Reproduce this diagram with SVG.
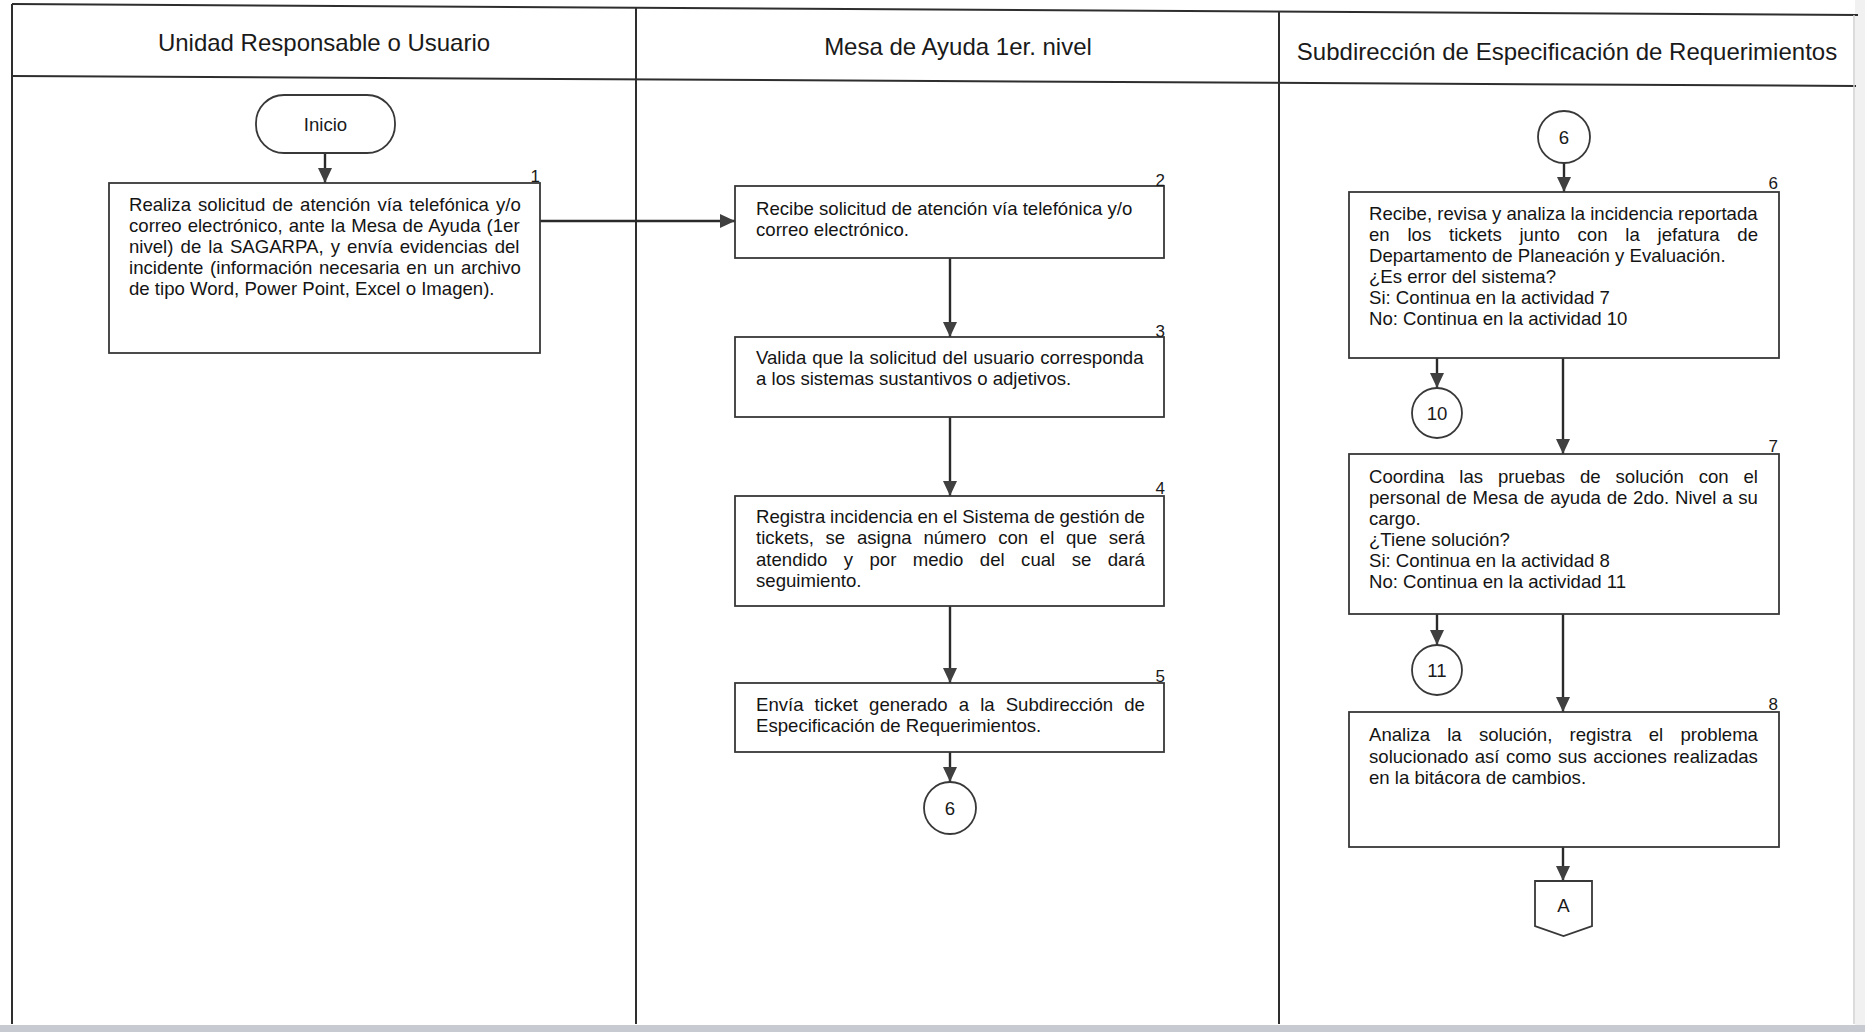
<svg xmlns="http://www.w3.org/2000/svg" width="1865" height="1032" viewBox="0 0 1865 1032">
<style>
  .frame { stroke: #2e2e2e; stroke-width: 2; fill: none; }
  .box { fill: #ffffff; stroke: #383838; stroke-width: 1.8; }
  .conn { stroke: #2a2a2a; stroke-width: 2.4; fill: none; marker-end: url(#arrow); }
  .hdr { font-family: "Liberation Sans", Arial, sans-serif; font-size: 24px; fill: #1a1a1a; text-anchor: middle; }
  .t { font-family: "Liberation Sans", Arial, sans-serif; font-size: 18.6px; fill: #141414; }
  .num { font-family: "Liberation Sans", Arial, sans-serif; font-size: 17px; fill: #1a1a1a; text-anchor: end; }
  .ctr { font-family: "Liberation Sans", Arial, sans-serif; font-size: 18.6px; fill: #1a1a1a; text-anchor: middle; }
</style>
<defs>
  <marker id="arrow" markerUnits="userSpaceOnUse" markerWidth="16" markerHeight="14" viewBox="0 0 16 14" refX="15" refY="7" orient="auto">
    <path d="M0,0 L15,7 L0,14 Z" fill="#404040"/>
  </marker>
</defs>
<rect x="0" y="0" width="1865" height="1032" fill="#ffffff"/>
<rect x="1855" y="0" width="10" height="1032" fill="#f1f1f1"/>
<rect x="0" y="1025" width="1865" height="7" fill="#c8cad2"/>

<g id="frame">
  <line class="frame" x1="12" y1="4" x2="1858" y2="15"/>
  <line class="frame" x1="12" y1="76" x2="1856" y2="86"/>
  <line class="frame" x1="12" y1="4" x2="12" y2="1024"/>
  <line class="frame" x1="636" y1="8" x2="636" y2="1024"/>
  <line class="frame" x1="1279" y1="11" x2="1279" y2="1024"/>
  <line x1="1854" y1="15" x2="1854" y2="1024" stroke="#d0d0d0" stroke-width="1.5"/>
</g>

<g id="headers">
  <text class="hdr" x="324" y="51">Unidad Responsable o Usuario</text>
  <text class="hdr" x="958" y="55">Mesa de Ayuda 1er. nivel</text>
  <text class="hdr" x="1567" y="60">Subdirección de Especificación de Requerimientos</text>
</g>

<g id="connectors">
  <line class="conn" x1="325" y1="153" x2="325" y2="183"/>
  <line class="conn" x1="540" y1="221" x2="735" y2="221" stroke-width="3"/>
  <line class="conn" x1="950" y1="258" x2="950" y2="337"/>
  <line class="conn" x1="950" y1="417" x2="950" y2="496"/>
  <line class="conn" x1="950" y1="606" x2="950" y2="683"/>
  <line class="conn" x1="950" y1="752" x2="950" y2="782"/>
  <line class="conn" x1="1564" y1="163" x2="1564" y2="192"/>
  <line class="conn" x1="1437" y1="358" x2="1437" y2="388"/>
  <line class="conn" x1="1563" y1="358" x2="1563" y2="454"/>
  <line class="conn" x1="1437" y1="614" x2="1437" y2="645"/>
  <line class="conn" x1="1563" y1="614" x2="1563" y2="712"/>
  <line class="conn" x1="1563" y1="847" x2="1563" y2="881"/>
</g>

<g id="inicio">
  <rect class="box" x="256" y="95" width="139" height="58" rx="28" ry="28" stroke-width="2"/>
  <text class="ctr" x="325.5" y="130.5">Inicio</text>
</g>

<g id="act1">
  <rect class="box" x="109" y="183" width="431" height="170"/>
  <text class="num" x="540" y="182">1</text>
  <text class="t" x="129" y="211" word-spacing="1.9">Realiza solicitud de atención vía telefónica y/o</text>
  <text class="t" x="129" y="232" word-spacing="0.77">correo electrónico, ante la Mesa de Ayuda (1er</text>
  <text class="t" x="129" y="253" word-spacing="1.94">nivel) de la SAGARPA, y envía evidencias del</text>
  <text class="t" x="129" y="274" word-spacing="1.48">incidente (información necesaria en un archivo</text>
  <text class="t" x="129" y="295">de tipo Word, Power Point, Excel o Imagen).</text>
</g>

<g id="act2">
  <rect class="box" x="735" y="186" width="429" height="72"/>
  <text class="num" x="1165" y="186">2</text>
  <text class="t" x="756" y="215">Recibe solicitud de atención vía telefónica y/o</text>
  <text class="t" x="756" y="236">correo electrónico.</text>
</g>

<g id="act3">
  <rect class="box" x="735" y="337" width="429" height="80"/>
  <text class="num" x="1165" y="337">3</text>
  <text class="t" x="756" y="364" word-spacing="0.73">Valida que la solicitud del usuario corresponda</text>
  <text class="t" x="756" y="385">a los sistemas sustantivos o adjetivos.</text>
</g>

<g id="act4">
  <rect class="box" x="735" y="496" width="429" height="110"/>
  <text class="num" x="1165" y="494">4</text>
  <text class="t" x="756" y="523" word-spacing="-0.4">Registra incidencia en el Sistema de gestión de</text>
  <text class="t" x="756" y="544" word-spacing="6.54">tickets, se asigna número con el que será</text>
  <text class="t" x="756" y="566" word-spacing="11.26">atendido y por medio del cual se dará</text>
  <text class="t" x="756" y="587">seguimiento.</text>
</g>

<g id="act5">
  <rect class="box" x="735" y="683" width="429" height="69"/>
  <text class="num" x="1165" y="682">5</text>
  <text class="t" x="756" y="711" word-spacing="5.9">Envía ticket generado a la Subdirección de</text>
  <text class="t" x="756" y="732">Especificación de Requerimientos.</text>
</g>

<g id="conn6a">
  <circle class="box" cx="950" cy="808" r="26"/>
  <text class="ctr" x="950" y="814.5">6</text>
</g>

<g id="conn6b">
  <circle class="box" cx="1564" cy="137" r="26"/>
  <text class="ctr" x="1564" y="143.5">6</text>
</g>

<g id="act6">
  <rect class="box" x="1349" y="192" width="430" height="166"/>
  <text class="num" x="1778" y="189">6</text>
  <text class="t" x="1369" y="220">Recibe, revisa y analiza la incidencia reportada</text>
  <text class="t" x="1369" y="241" word-spacing="12.6">en los tickets junto con la jefatura de</text>
  <text class="t" x="1369" y="262">Departamento de Planeación y Evaluación.</text>
  <text class="t" x="1369" y="283">¿Es error del sistema?</text>
  <text class="t" x="1369" y="304">Si: Continua en la actividad 7</text>
  <text class="t" x="1369" y="325">No: Continua en la actividad 10</text>
</g>

<g id="conn10">
  <circle class="box" cx="1437" cy="413" r="25"/>
  <text class="ctr" x="1437" y="419.5">10</text>
</g>

<g id="act7">
  <rect class="box" x="1349" y="454" width="430" height="160"/>
  <text class="num" x="1778" y="452">7</text>
  <text class="t" x="1369" y="483" word-spacing="9.7">Coordina las pruebas de solución con el</text>
  <text class="t" x="1369" y="504" word-spacing="0.6">personal de Mesa de ayuda de 2do. Nivel a su</text>
  <text class="t" x="1369" y="525">cargo.</text>
  <text class="t" x="1369" y="546">¿Tiene solución?</text>
  <text class="t" x="1369" y="567">Si: Continua en la actividad 8</text>
  <text class="t" x="1369" y="588">No: Continua en la actividad 11</text>
</g>

<g id="conn11">
  <circle class="box" cx="1437" cy="670" r="25"/>
  <text class="ctr" x="1437" y="676.5">11</text>
</g>

<g id="act8">
  <rect class="box" x="1349" y="712" width="430" height="135"/>
  <text class="num" x="1778" y="710">8</text>
  <text class="t" x="1369" y="741" word-spacing="12.06">Analiza la solución, registra el problema</text>
  <text class="t" x="1369" y="763" word-spacing="1.3">solucionado así como sus acciones realizadas</text>
  <text class="t" x="1369" y="784">en la bitácora de cambios.</text>
</g>

<g id="connA">
  <polygon class="box" points="1535,881 1592,881 1592,926 1563.5,936 1535,926" stroke-width="2"/>
  <text class="ctr" x="1563.5" y="912" font-size="20">A</text>
</g>
</svg>
